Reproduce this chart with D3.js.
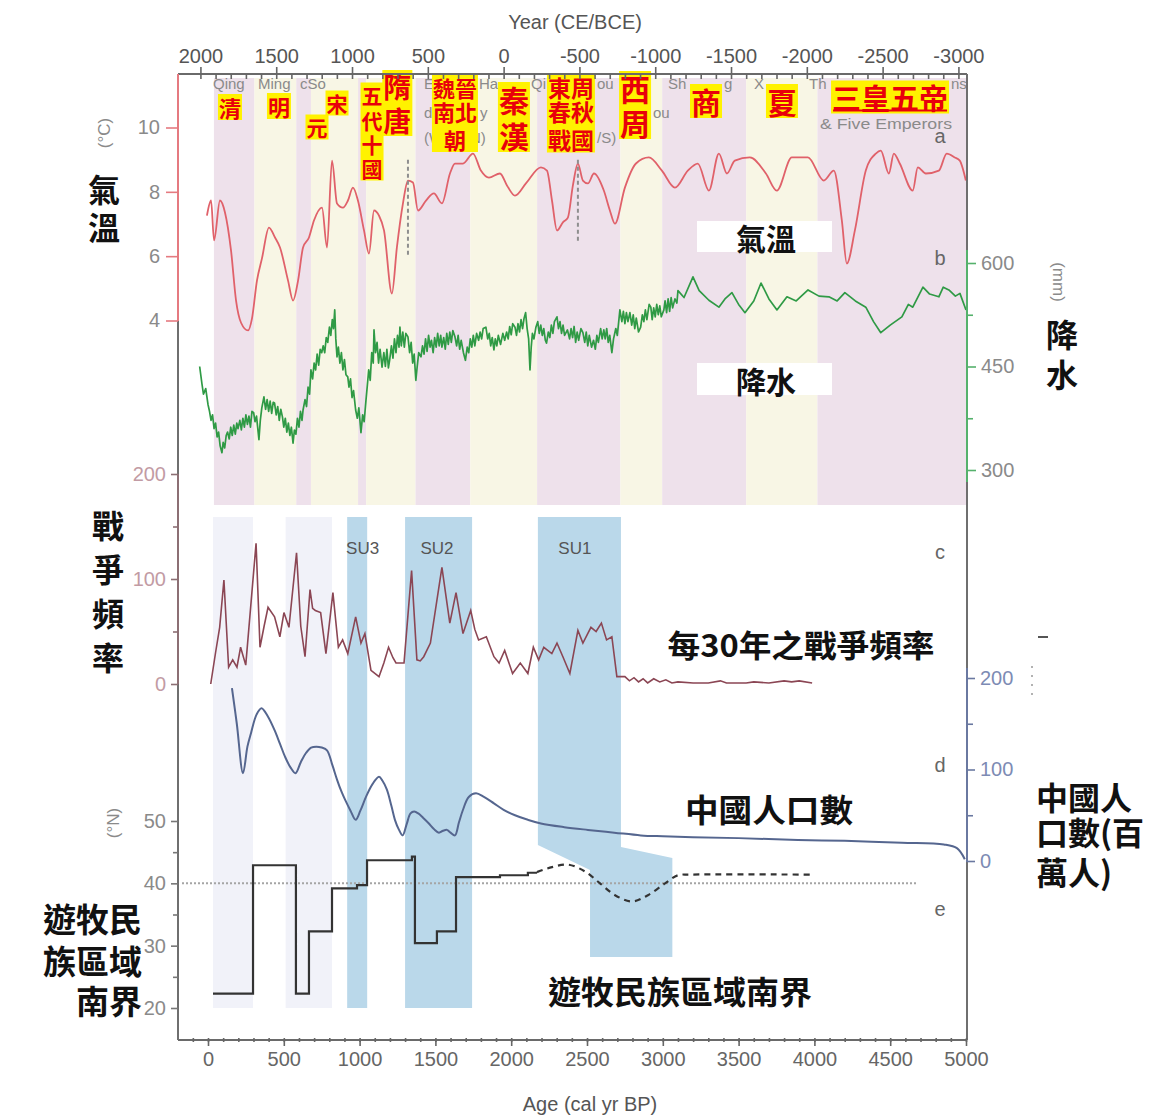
<!DOCTYPE html>
<html>
<head>
<meta charset="utf-8">
<script src="https://cdn.jsdelivr.net/npm/d3@7"></script>
<style>
  body { margin: 0; background: #fff; }
  svg { display: block; }
</style>
</head>
<body>
<svg id="chart" width="1150" height="1117"></svg>
<script>
// ---------------- data ----------------
// Dynastic periods: name, start and end in cal yr BP
const dynasties = [
  ["清", 39, 306], ["明", 306, 582], ["元", 582, 679], ["宋", 679, 990],
  ["五代十國", 990, 1043], ["隋唐", 1043, 1369], ["魏晉南北朝", 1369, 1730],
  ["秦漢", 1730, 2171], ["東周", 2171, 2720], ["西周", 2720, 2996],
  ["商", 2996, 3550], ["夏", 3550, 4020], ["三皇五帝", 4020, 5000]
];

// (a) temperature, °C
const temperature = [
  [-7,7.26],[20,7.73],[40,6.49],[79,7.73],[112,7.36],[152,6.17],[185,4.62],[218,3.93],[264,3.69],[290,4.06],
  [323,5.24],[356,5.93],[402,6.89],[442,6.58],[475,6.27],[528,5.24],[561,4.62],[594,5.24],[627,6.27],[666,6.58],
  [699,7.11],[752,7.51],[785,6.27],[818,8.97],[851,7.64],[890,7.51],[923,7.73],[956,8.13],[989,7.73],[1029,6.8],
  [1062,6.08],[1095,7.42],[1128,7.26],[1161,6.8],[1213,4.84],[1246,6.27],[1286,7.64],[1319,8.35],[1352,8.29],[1385,7.42],
  [1438,7.73],[1490,7.95],[1543,7.64],[1596,8.57],[1629,8.88],[1682,8.88],[1748,9.19],[1800,8.66],[1853,8.44],[1926,8.57],
  [1972,8.2],[2025,7.88],[2097,8.26],[2196,8.76],[2236,8.66],[2269,7.73],[2302,6.8],[2341,7.05],[2374,7.2],[2407,8.2],
  [2440,8.88],[2473,8.35],[2506,8.26],[2546,8.57],[2611,8.04],[2651,7.42],[2684,7.01],[2750,8.13],[2823,8.88],[2908,9.07],
  [2994,8.66],[3080,8.13],[3165,8.66],[3231,8.88],[3304,8.04],[3370,9.19],[3423,8.57],[3475,8.97],[3574,9.07],[3680,8.57],
  [3752,8.04],[3851,9.07],[3957,9.07],[4062,8.35],[4128,8.66],[4181,7.11],[4214,5.77],[4267,6.8],[4339,8.66],[4405,9.19],
  [4438,9.28],[4491,8.57],[4524,9.19],[4563,8.88],[4649,8.04],[4682,8.76],[4735,8.57],[4821,8.66],[4873,9.19],[4926,9.07],
  [4959,8.97],[4999,8.35]
];

// (b) precipitation, mm
const precipitation = [
  [-55,450],[-40,425],[-30,410],[-15,418],[0,395],[10,385],[20,372],[30,380],[40,360],[50,368],[60,348],[70,355],[80,335],
  [92,325],[100,340],[110,332],[120,350],[129,355],[140,345],[150,362],[160,350],[170,365],[180,352],[190,368],[198,360],
  [210,372],[220,358],[230,375],[240,362],[250,380],[260,366],[270,378],[280,362],[290,385],[301,383],[310,370],[320,378],
  [336,344],[345,372],[355,390],[369,406],[380,388],[390,402],[400,385],[410,400],[420,382],[430,398],[439,397],[450,380],
  [460,392],[470,372],[480,388],[491,377],[500,362],[510,375],[520,355],[530,368],[540,350],[550,362],[561,339],[570,358],
  [580,352],[590,375],[600,362],[610,385],[620,372],[627,387],[640,402],[650,392],[660,420],[670,410],[679,445],[690,432],
  [700,455],[710,445],[720,468],[730,452],[740,475],[750,470],[760,480],[770,470],[780,492],[790,485],[801,507],[810,495],
  [820,518],[828,505],[836,532],[843,490],[851,464],[860,478],[870,455],[880,470],[890,445],[900,460],[910,438],[922,435],
  [930,420],[940,432],[950,405],[960,415],[974,387],[985,375],[995,390],[1009,354],[1020,380],[1030,370],[1042,401],[1050,420],
  [1060,445],[1070,430],[1080,470],[1090,455],[1095,503],[1105,470],[1115,485],[1125,455],[1135,475],[1148,449],[1160,470],
  [1170,450],[1180,475],[1190,448],[1198,459],[1210,480],[1220,462],[1230,490],[1240,470],[1250,495],[1260,478],[1266,507],
  [1275,480],[1285,500],[1295,478],[1305,498],[1319,493],[1330,470],[1340,485],[1350,455],[1360,468],[1371,430],[1380,450],
  [1390,470],[1405,464],[1415,480],[1425,468],[1435,490],[1445,472],[1455,495],[1465,478],[1474,488],[1485,470],[1495,492],
  [1505,478],[1515,498],[1525,480],[1535,495],[1543,478],[1555,492],[1565,475],[1575,498],[1585,482],[1595,500],[1605,485],
  [1615,502],[1629,493],[1640,480],[1650,495],[1660,475],[1670,488],[1685,470],[1698,459],[1710,478],[1720,470],[1730,490],
  [1740,478],[1750,495],[1760,480],[1772,498],[1785,488],[1795,500],[1805,490],[1815,505],[1833,507],[1845,490],[1855,498],
  [1865,480],[1875,492],[1886,474],[1895,490],[1905,480],[1915,495],[1930,482],[1945,498],[1957,488],[1970,500],[1980,490],
  [1990,508],[2000,496],[2010,512],[2025,507],[2035,495],[2045,512],[2055,500],[2065,518],[2075,505],[2085,520],[2095,528],
  [2105,505],[2115,490],[2124,445],[2132,478],[2140,498],[2150,490],[2163,507],[2175,515],[2185,498],[2195,510],[2205,495],
  [2215,505],[2225,488],[2233,484],[2245,500],[2255,492],[2265,510],[2275,498],[2285,515],[2302,522],[2312,505],[2322,515],
  [2332,498],[2342,510],[2352,495],[2371,503],[2385,490],[2395,505],[2405,492],[2415,508],[2425,485],[2435,500],[2445,488],
  [2460,505],[2473,499],[2485,485],[2495,500],[2505,480],[2515,495],[2530,478],[2543,488],[2555,475],[2565,495],[2575,485],
  [2590,505],[2600,490],[2611,503],[2620,490],[2630,505],[2640,485],[2650,495],[2664,470],[2675,490],[2690,505],[2700,495],
  [2717,532],[2730,515],[2740,530],[2750,512],[2760,528],[2770,515],[2783,528],[2795,510],[2805,525],[2815,505],[2825,520],
  [2840,500],[2854,507],[2865,525],[2875,515],[2885,532],[2895,518],[2910,540],[2921,536],[2930,518],[2940,535],[2950,522],
  [2960,540],[2970,525],[2980,538],[2990,522],[3007,532],[3015,545],[3025,528],[3035,548],[3045,530],[3055,550],[3065,535],
  [3080,548],[3093,542],[3100,560],[3140,550],[3199,580],[3240,560],[3304,546],[3370,536],[3410,548],[3456,557],[3500,540],
  [3542,528],[3600,545],[3648,571],[3700,548],[3753,532],[3819,551],[3880,545],[3958,561],[4030,552],[4096,551],[4150,545],
  [4201,557],[4270,545],[4339,536],[4390,515],[4438,499],[4500,510],[4577,522],[4620,540],[4649,536],[4716,565],[4760,555],
  [4821,551],[4850,565],[4887,561],[4930,552],[4960,556],[5000,532]
];

// (c) war frequency per 30 years
const warFrequency = [
  [18,0],[50,30],[77,54],[105,99],[136,16],[163,23],[191,16],[215,35],[249,18],[317,134],[343,35],[370,55],[396,73],
  [439,64],[474,45],[501,68],[534,54],[584,125],[612,55],[640,26],[673,90],[690,72],[708,70],[743,68],[778,29],[824,87],
  [860,35],[888,42],[922,29],[974,64],[1009,39],[1035,48],[1075,13],[1128,7],[1160,20],[1191,35],[1220,25],[1240,20],
  [1293,20],[1343,108],[1378,23],[1400,22],[1423,26],[1467,39],[1543,111],[1595,58],[1636,87],[1682,48],[1733,70],
  [1760,52],[1785,42],[1836,45],[1886,26],[1920,20],[1957,32],[2009,10],[2060,20],[2110,10],[2146,35],[2181,23],
  [2215,35],[2268,29],[2302,39],[2341,26],[2387,10],[2440,51],[2473,39],[2526,54],[2560,50],[2595,58],[2629,42],
  [2664,45],[2697,7],[2750,7],[2780,3],[2810,6],[2840,2],[2870,5],[2900,1],[2940,5],[2980,2],[3020,4],[3060,1],
  [3100,2],[3200,1],[3300,1],[3380,3],[3420,1],[3550,1],[3600,2],[3700,1],[3800,3],[3850,2],[3900,3],[3985,1]
];

// (d) population of China, millions
const population = [
  [158,189],[190,150],[231,96],[260,125],[284,140],[320,160],[353,167],[395,158],[439,143],[475,128],[508,114],
  [545,102],[577,96],[612,108],[646,118],[680,124],[715,125],[750,124],[785,121],[820,105],[851,89],[880,76],
  [904,67],[940,55],[974,45],[1005,55],[1042,70],[1085,84],[1128,92],[1150,88],[1180,78],[1210,60],[1233,45],
  [1260,34],[1284,28],[1310,40],[1336,52],[1360,54],[1387,52],[1420,47],[1457,41],[1490,35],[1523,31],[1550,33],
  [1576,34],[1600,31],[1629,28],[1655,42],[1682,56],[1720,70],[1768,74],[1820,70],[1886,63],[1950,56],[2025,50],
  [2110,45],[2196,41],[2350,37],[2506,34],[2680,31],[2855,28],[3000,27],[3198,26],[3500,25],[3891,23],[4200,22],
  [4577,20],[4854,18],[4940,14],[4992,2]
];

// (e) southern boundary of nomadic regions, °N (documented steps, then inferred)
const nomadBoundary = [
  [33,22.3],[297,42.9],[580,22.3],[666,32.3],[818,39.2],[983,39.7],[1049,43.7],[1345,44.3],[1365,30.4],
  [1510,32.3],[1636,41.0],[1926,41.3],[2110,41.7],[2170,41.7]
];
const nomadBoundaryInferred = [
  [2170,41.8],[2269,42.6],[2375,43.0],[2487,41.9],[2586,40.0],[2685,38.1],[2797,37.1],[2902,38.1],
  [3015,40.0],[3100,41.3],[3179,41.4],[3984,41.4]
];

// Social-unrest periods (BP); SU1 shifts later in the lower panels
const unrestPeriods = [
  { label: "SU3", from: 918, to: 1050, labelAt: 1020 },
  { label: "SU2", from: 1300, to: 1742, labelAt: 1510 },
  { label: "SU1", from: 2176, to: 2724, lowFrom: 2520, lowTo: 3063, labelAt: 2420 }
];
const lightPeriods = [[33, 297], [512, 818]];

// Tick values
const ageTicks = d3.range(0, 5001, 500);
const yearTicks = [2000, 1500, 1000, 500, 0, -500, -1000, -1500, -2000, -2500, -3000];
const tempTicks = [4, 6, 8, 10];
const precipTicks = [300, 450, 600];
const warTicks = [0, 100, 200];
const popTicks = [0, 100, 200];
const latTicks = [20, 30, 40, 50];

// ---------------- layout ----------------
const svg = d3.select("#chart");
const latin = "'Liberation Sans', Arial, sans-serif";
const cjk = "'Noto Sans CJK TC', 'Noto Sans CJK SC', sans-serif";
const frame = { left: 178, right: 967, top: 74, bottom: 1040 };

const x = d3.scaleLinear().domain([0, 5000]).range([208, 966]);
const xYear = d3.scaleLinear().domain([1950, 1950 - 5000]).range([208, 966]);
const yTemp = d3.scaleLinear().domain([4, 10]).range([320.5, 127.5]);
const yPrecip = d3.scaleLinear().domain([300, 600]).range([470, 263]);
const yWar = d3.scaleLinear().domain([0, 200]).range([684, 474]);
const yPop = d3.scaleLinear().domain([0, 200]).range([861, 678]);
const yLat = d3.scaleLinear().domain([20, 50]).range([1008, 821]);

// dynasty background bands
svg.append("g").selectAll("rect").data(dynasties).join("rect")
  .attr("x", d => x(d[1])).attr("width", d => x(d[2]) - x(d[1]))
  .attr("y", 78).attr("height", 427)
  .attr("fill", (d, i) => i % 2 === 0 ? "#eee1eb" : "#f8f6e5");

// faint columns in the lower panels
svg.append("g").selectAll("rect").data(lightPeriods).join("rect")
  .attr("x", d => x(d[0])).attr("width", d => x(d[1]) - x(d[0]))
  .attr("y", 517).attr("height", 491).attr("fill", "#f1f2f9");

// social unrest bands
const blue = "#bad8ea";
unrestPeriods.forEach(p => {
  if (p.lowFrom === undefined) {
    svg.append("rect").attr("x", x(p.from)).attr("width", x(p.to) - x(p.from))
      .attr("y", 517).attr("height", 491).attr("fill", blue);
  } else {
    const pts = [[x(p.from), 517], [x(p.to), 517], [x(p.to), 847], [x(p.lowTo), 858],
                 [x(p.lowTo), 957], [x(p.lowFrom), 957], [x(p.lowFrom), 870], [x(p.from), 845]];
    svg.append("polygon").attr("points", pts.map(q => q.join(",")).join(" ")).attr("fill", blue);
  }
  svg.append("text").attr("x", x(p.labelAt)).attr("y", 548).attr("text-anchor", "middle")
    .attr("dominant-baseline", "central").attr("font-family", latin).attr("font-size", 17)
    .attr("fill", "#555").text(p.label);
});

// English era names, the parts left visible beside the Chinese labels
const eraNames = [
  { x: 213, y: 83, t: "Qing" }, { x: 258, y: 83, t: "Ming" }, { x: 300, y: 83, t: "cSo" },
  { x: 424, y: 83, t: "E" }, { x: 424, y: 112, t: "d" }, { x: 424, y: 137, t: "(W." },
  { x: 479, y: 83, t: "Ha" }, { x: 480, y: 112, t: "y" }, { x: 470, y: 137, t: "N)" },
  { x: 531, y: 83, t: "Qi" }, { x: 597, y: 83, t: "ou" }, { x: 597, y: 137, t: "/S)" },
  { x: 653, y: 112, t: "ou" }, { x: 668, y: 83, t: "Sh" }, { x: 724, y: 83, t: "g" },
  { x: 754, y: 83, t: "X" }, { x: 809, y: 83, t: "Th" }, { x: 951, y: 83, t: "ns" },
  { x: 820, y: 123, t: "& Five Emperors", len: 132 }
];
eraNames.forEach(e => {
  const t = svg.append("text").attr("x", e.x).attr("y", e.y)
    .attr("dominant-baseline", "central").attr("font-family", latin).attr("font-size", 15)
    .attr("fill", "#8a8a8a").text(e.t);
  if (e.len) t.attr("textLength", e.len).attr("lengthAdjust", "spacingAndGlyphs");
});

// ---------------- curves ----------------
const tempLine = d3.line().x(d => x(d[0])).y(d => yTemp(d[1])).curve(d3.curveMonotoneX);
svg.append("path").datum(temperature).attr("d", tempLine)
  .attr("fill", "none").attr("stroke", "#e0616a").attr("stroke-width", 1.8);

// dashed markers in the temperature record
[[1319, 9.0, 6.0], [2440, 9.0, 6.4]].forEach(m => {
  svg.append("line").attr("x1", x(m[0])).attr("x2", x(m[0]))
    .attr("y1", yTemp(m[1])).attr("y2", yTemp(m[2]))
    .attr("stroke", "#8e8e8e").attr("stroke-width", 2).attr("stroke-dasharray", "4,3");
});

const precipLine = d3.line().x(d => x(d[0])).y(d => yPrecip(d[1]));
svg.append("path").datum(precipitation).attr("d", precipLine)
  .attr("fill", "none").attr("stroke", "#2f9a45").attr("stroke-width", 1.7).attr("stroke-linejoin", "round");

const warLine = d3.line().x(d => x(d[0])).y(d => yWar(d[1]));
svg.append("path").datum(warFrequency).attr("d", warLine)
  .attr("fill", "none").attr("stroke", "#8b4654").attr("stroke-width", 1.6);

const popLine = d3.line().x(d => x(d[0])).y(d => yPop(d[1])).curve(d3.curveCatmullRom.alpha(0.5));
svg.append("path").datum(population).attr("d", popLine)
  .attr("fill", "none").attr("stroke", "#55668f").attr("stroke-width", 2);

// 40°N reference line
svg.append("line").attr("x1", 182).attr("x2", x(4683)).attr("y1", yLat(40)).attr("y2", yLat(40))
  .attr("stroke", "#a5a5a5").attr("stroke-width", 2).attr("stroke-dasharray", "2,2");

const latStep = d3.line().x(d => x(d[0])).y(d => yLat(d[1])).curve(d3.curveStepAfter);
svg.append("path").datum(nomadBoundary).attr("d", latStep)
  .attr("fill", "none").attr("stroke", "#333").attr("stroke-width", 2.2);
const latInferred = d3.line().x(d => x(d[0])).y(d => yLat(d[1])).curve(d3.curveCatmullRom.alpha(0.5));
svg.append("path").datum(nomadBoundaryInferred).attr("d", latInferred)
  .attr("fill", "none").attr("stroke", "#333").attr("stroke-width", 2.2).attr("stroke-dasharray", "6,5");

// ---------------- Chinese dynasty labels ----------------
const dynastyLabels = [
  { bp: 145, size: 22, lines: [["清", 107]] },
  { bp: 468, size: 22, lines: [["明", 106]] },
  { bp: 719, size: 21, lines: [["元", 127]] },
  { bp: 851, size: 21, lines: [["宋", 103]] },
  { bp: 1082, size: 21, lines: [["五", 95], ["代", 120], ["十", 144], ["國", 168]] },
  { bp: 1249, size: 28, lines: [["隋", 86], ["唐", 120]] },
  { bp: 1629, size: 22, lines: [["魏晉", 87], ["南北", 111], ["朝", 139]] },
  { bp: 2018, size: 30, lines: [["秦", 99], ["漢", 135]] },
  { bp: 2394, size: 23, lines: [["東周", 87], ["春秋", 111], ["戰國", 139]] },
  { bp: 2817, size: 30, lines: [["西", 88], ["周", 122]] },
  { bp: 3285, size: 30, lines: [["商", 101]] },
  { bp: 3786, size: 30, lines: [["夏", 101]] },
  { bp: 4499, size: 29, lines: [["三皇五帝", 97]] }
];
dynastyLabels.forEach(l => {
  const cx = x(l.bp);
  const maxChars = d3.max(l.lines, d => d[0].length);
  const w = maxChars * l.size + 2;
  const top = l.lines[0][1] - l.size / 2 - 2;
  const bottom = l.lines[l.lines.length - 1][1] + l.size / 2 + 2;
  svg.append("rect").attr("x", cx - w / 2).attr("y", top).attr("width", w).attr("height", bottom - top)
    .attr("fill", "#fff200");
  const t = svg.append("text").attr("text-anchor", "middle").attr("dominant-baseline", "central")
    .attr("font-family", cjk).attr("font-weight", 700).attr("font-size", l.size).attr("fill", "#e8000b");
  l.lines.forEach(([s, y]) => t.append("tspan").attr("x", cx).attr("y", y).text(s));
  if (l.lines[0][0] === "三皇五帝") {
    svg.append("line").attr("x1", cx - w / 2 + 2).attr("x2", cx + w / 2 - 2)
      .attr("y1", bottom - 3).attr("y2", bottom - 3).attr("stroke", "#e8000b").attr("stroke-width", 2);
  }
});

// ---------------- axes ----------------
function seg(x1, y1, x2, y2, color, w) {
  svg.append("line").attr("x1", x1).attr("y1", y1).attr("x2", x2).attr("y2", y2)
    .attr("stroke", color).attr("stroke-width", w || 2);
}
// frame, with the coloured parts of each vertical axis
seg(frame.left, frame.top, frame.right, frame.top, "#6a6a6a");
seg(frame.left, frame.bottom, frame.right, frame.bottom, "#6a6a6a");
seg(frame.left, frame.top, frame.left, 321, "#e57a80");
seg(frame.left, 321, frame.left, 474, "#6f6f6f");
seg(frame.left, 474, frame.left, 684, "#8c6f74");
seg(frame.left, 684, frame.left, frame.bottom, "#6f6f6f");
seg(frame.right, frame.top, frame.right, 250, "#6f6f6f");
seg(frame.right, 250, frame.right, 482, "#55b16c");
seg(frame.right, 482, frame.right, 668, "#6f6f6f");
seg(frame.right, 668, frame.right, 862, "#6a78a0");
seg(frame.right, 862, frame.right, frame.bottom, "#6f6f6f");

function styleAxis(g, tickColor, textColor, size) {
  g.select(".domain").remove();
  g.selectAll(".tick line").attr("stroke", tickColor).attr("stroke-width", 1.6);
  g.selectAll(".tick text").attr("fill", textColor).attr("font-size", size || 20).attr("font-family", latin);
}
function addAxis(axis, tx, ty, tickColor, textColor, size) {
  const g = svg.append("g").attr("transform", `translate(${tx},${ty})`).call(axis);
  styleAxis(g, tickColor, textColor, size);
  return g;
}
const fmt = d => String(d);

// bottom age axis
addAxis(d3.axisBottom(x).tickValues(ageTicks).tickSize(6).tickPadding(6).tickFormat(fmt), 0, frame.bottom, "#666", "#666");
addAxis(d3.axisBottom(x).tickValues(d3.range(-100, 5001, 100)).tickSizeInner(-4).tickFormat(""), 0, frame.bottom + 2, "#666", "#666");
// top calendar-year axis
addAxis(d3.axisTop(xYear).tickValues(yearTicks).tickSize(7).tickPadding(4).tickFormat(fmt), 0, frame.top, "#666", "#555");
addAxis(d3.axisTop(xYear).tickValues(d3.range(2000, -3001, -100)).tickSizeInner(-5).tickFormat(""), 0, frame.top, "#666", "#666");

// left axes
addAxis(d3.axisLeft(yTemp).tickValues(tempTicks).tickSize(12).tickPadding(6).tickFormat(fmt), frame.left, 0, "#e57a80", "#8a8a8a");
addAxis(d3.axisLeft(yWar).tickValues(warTicks).tickSize(7).tickPadding(5).tickFormat(fmt), frame.left, 0, "#8c6f74", "#c29ba4");
addAxis(d3.axisLeft(yWar).tickValues([50, 150]).tickSize(5).tickFormat(""), frame.left, 0, "#8c6f74", "#c29ba4");
addAxis(d3.axisLeft(yLat).tickValues(latTicks).tickSize(7).tickPadding(5).tickFormat(fmt), frame.left, 0, "#777", "#8a8a8a");
addAxis(d3.axisLeft(yLat).tickValues([25, 35, 45]).tickSize(5).tickFormat(""), frame.left, 0, "#777", "#8a8a8a");
// right axes
addAxis(d3.axisRight(yPrecip).tickValues(precipTicks).tickSize(9).tickPadding(5).tickFormat(fmt), frame.right, 0, "#55b16c", "#8a8a8a");
addAxis(d3.axisRight(yPrecip).tickValues([375, 525]).tickSize(6).tickFormat(""), frame.right, 0, "#55b16c", "#8a8a8a");
addAxis(d3.axisRight(yPop).tickValues(popTicks).tickSize(8).tickPadding(5).tickFormat(fmt), frame.right, 0, "#6a78a0", "#7d8bb4");
addAxis(d3.axisRight(yPop).tickValues([50, 150]).tickSize(6).tickFormat(""), frame.right, 0, "#6a78a0", "#7d8bb4");

// text helper; `lines` stacks several rows inside one text element
function txt(xp, yp, s, opt) {
  const t = svg.append("text").attr("x", xp).attr("y", yp)
    .attr("text-anchor", opt.anchor || "middle").attr("dominant-baseline", "central")
    .attr("font-family", opt.family || latin).attr("font-size", opt.size || 20)
    .attr("fill", opt.fill || "#111");
  if (Array.isArray(s)) {
    s.forEach(([str, yy]) => t.append("tspan").attr("x", xp).attr("y", yy).text(str));
  } else {
    t.text(s);
  }
  if (opt.weight) t.attr("font-weight", opt.weight);
  if (opt.rotate) t.attr("transform", `rotate(${opt.rotate},${xp},${yp})`);
  if (opt.len) t.attr("textLength", opt.len).attr("lengthAdjust", "spacingAndGlyphs");
  return t;
}
txt(575, 22, "Year (CE/BCE)", { size: 20, fill: "#555" });
txt(590, 1104, "Age (cal yr BP)", { size: 20, fill: "#555" });

txt(104, 133, "(°C)", { size: 17, fill: "#8a8a8a", rotate: -90 });
txt(113, 823, "(°N)", { size: 17, fill: "#8a8a8a", rotate: -90 });
txt(1058, 282, "(mm)", { size: 17, fill: "#8a8a8a", rotate: 90 });

const big = { family: cjk, weight: 700, size: 32, fill: "#111" };
const opt = o => Object.assign({}, big, o);
txt(104, 188, [["氣", 188], ["溫", 226]], big);
txt(1062, 333, [["降", 333], ["水", 373]], big);
txt(108, 524, [["戰", 524], ["爭", 568], ["頻", 612], ["率", 656]], big);
txt(142, 918, [["遊牧民", 918], ["族區域", 960], ["南界", 1000]], opt({ anchor: "end", size: 33 }));
txt(1036, 796, [["中國人", 796], ["口數(百", 831], ["萬人)", 871]], opt({ anchor: "start" }));

// series captions
svg.append("rect").attr("x", 697).attr("y", 221).attr("width", 135).attr("height", 31).attr("fill", "#fff");
txt(766, 237, "氣溫", opt({ size: 30 }));
svg.append("rect").attr("x", 697).attr("y", 363).attr("width", 135).attr("height", 32).attr("fill", "#fff");
txt(766, 380, "降水", opt({ size: 30 }));
txt(801, 643, "每30年之戰爭頻率", opt({ size: 31, len: 267 }));
txt(769, 808, "中國人口數", opt({ size: 32, len: 168 }));
txt(680, 990, "遊牧民族區域南界", opt({ size: 32, len: 264 }));

// panel letters
[["a", 136], ["b", 258], ["c", 552], ["d", 765], ["e", 909]].forEach(([l, yy]) =>
  txt(940, yy, l, { size: 20, fill: "#666" }));

// small marks at the right margin
seg(1038, 637, 1048, 637, "#555", 2);
svg.append("line").attr("x1", 1032).attr("x2", 1032).attr("y1", 666).attr("y2", 700)
  .attr("stroke", "#999").attr("stroke-width", 1.5).attr("stroke-dasharray", "2,7");
</script>
</body>
</html>
